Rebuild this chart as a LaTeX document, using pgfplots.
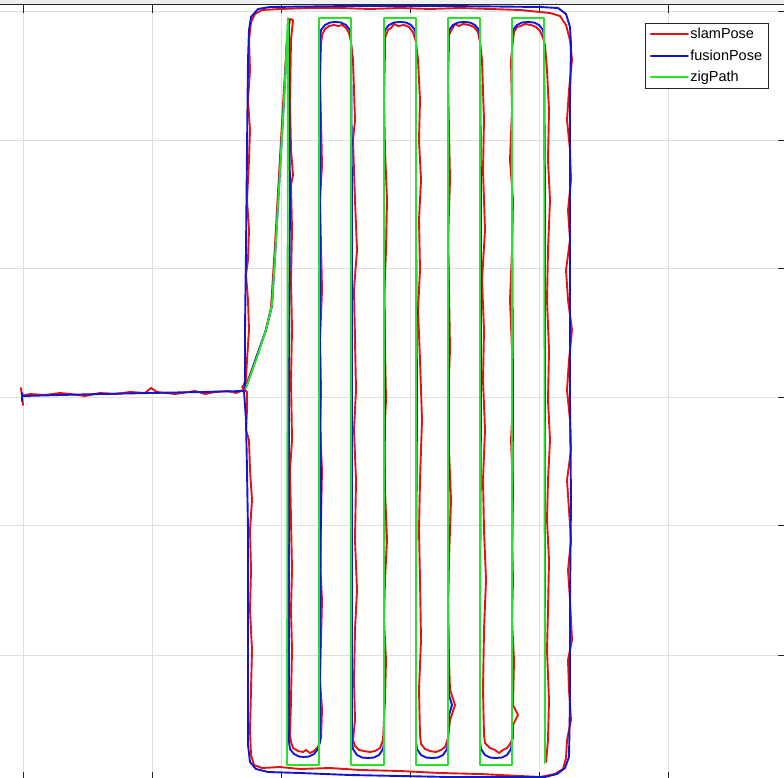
\documentclass[border=0pt]{standalone}
\usepackage{pgfplots}
\pgfplotsset{compat=1.18}
\usepackage{fontspec}
\setmainfont{Liberation Sans}
\definecolor{mred}{RGB}{225,20,20}
\definecolor{mblue}{RGB}{20,20,210}
\definecolor{mgreen}{RGB}{40,225,40}
\definecolor{figbg}{RGB}{240,240,240}
\definecolor{gridc}{RGB}{223,223,223}
\definecolor{axc}{RGB}{38,38,38}
\begin{document}
\begin{tikzpicture}
\begin{axis}[
 x=1pt, y=1pt, y dir=reverse,
 xmin=-15, xmax=786, ymin=5, ymax=779.5,
 axis line style={axc, line width=1pt},
 xtick={23,152,281,410,539,668}, ytick={11,140,268,397,525,655},
 xticklabels={}, yticklabels={},
 tick align=inside, major tick length=8pt,
 tick style={axc, line width=0.9pt},
 xtick pos=both, ytick pos=both,
 grid=major, major grid style={gridc, line width=0.9pt},
 clip=false,
 legend cell align=left,
 legend image code/.code={\draw[#1] (0pt,0pt) -- (37pt,0pt);},
 legend style={at={(0.9788,0.9768)}, anchor=north east, draw=axc, line width=0.8pt, fill=white,
   font=\fontsize{14.5}{17}\selectfont, inner xsep=5pt, inner ysep=3.5pt, row sep=6.5pt,
   nodes={inner sep=1.5pt}},
 every axis plot/.append style={line width=1.9pt, line join=round, line cap=round},
]
% slamPose
\addplot[mred] coordinates {
(21,388) (23,405) (22,396) (30,394) (45,395) (60,393) (70,394) (85,396) (100,393) (115,394) (130,392) (145,393) (151,388) (157,392) (175,394) (195,391) (205,394) (215,392) (228,391) (236,393) (243,390) (246,383) (242,387) (247,392)
(247,410) (246,430) (249,440) (250,470) (252,500) (250,530) (251,570) (250,610) (252,650) (251,690) (250,730) (251,755) (254,765) (262,768) (280,767) (300,769) (330,768) (360,770) (400,771) (440,773) (480,774) (520,776) (540,777) (555,774) (563,769) (566,758) (567,740) (571,720) (569,690) (568,660) (572,640) (570,600) (568,570) (571,540) (569,510) (567,480) (571,450) (570,420) (567,390) (569,360) (572,330) (568,300) (566,270) (570,240) (568,210) (571,180) (570,150) (567,120) (569,90) (572,60) (570,40) (566,25) (560,16) (550,13) (540,12) (520,10) (490,9) (460,8) (430,9) (400,8) (370,9) (340,8) (310,8) (280,9) (262,10) (255,14) (251,22) (249,40) (250,70) (248,100) (250,130) (249,160) (247,200) (249,230) (248,260) (246,275) (248,300) (249,330) (247,360) (246,378) (244,384)
(248,380) (257,356) (265,333) (271,308) (275,245) (279,175) (283,105) (287,40) (290,19) (293,20)
(291,40) (290,100) (291,150) (293,175) (291,185) (292,230) (291,280) (292,330) (291,380) (292,440) (290,470) (291,520) (292,570) (291,610) (292,650) (291,700) (290,735)
(291,742) (293,748) (298,751) (303,752) (306,750) (310,753) (314,751) (318,747) (321,738)
(322,710) (320,680) (321,640) (322,600) (320,560) (321,520) (322,470) (320,430) (321,390) (320,340) (322,290) (321,245) (320,200) (322,165) (321,120) (320,80) (321,45)
(322,35) (325,29) (329,26) (334,25) (338,26) (342,25) (346,28) (349,33) (351,42)
(353,60) (355,120) (353,140) (355,200) (357,250) (354,290) (355,340) (356,390) (354,430) (356,480) (355,540) (357,590) (355,630) (354,680) (355,720) (353,740)
(355,746) (359,750) (364,751) (370,752) (375,751) (380,748) (383,740)
(385,700) (386,660) (384,620) (385,580) (387,540) (385,490) (384,440) (386,400) (385,350) (384,300) (386,250) (387,200) (385,150) (384,100) (385,50)
(385,38) (388,30) (391,28) (394,24) (398,26) (404,25) (409,27) (413,32) (416,42)
(418,60) (420,100) (419,140) (421,180) (419,220) (420,270) (418,310) (420,360) (422,420) (420,480) (419,530) (420,580) (421,640) (419,690) (420,735)
(421,744) (425,749) (430,751) (436,752) (441,750) (445,747) (448,738)
(450,720) (455,705) (450,690) (449,660) (448,610) (449,560) (451,500) (449,450) (448,400) (450,350) (449,290) (448,240) (450,180) (449,130) (448,80) (449,45)
(449,35) (452,29) (455,24) (459,26) (463,24) (469,25) (474,27) (478,32) (480,42)
(482,60) (484,120) (483,170) (485,230) (482,280) (484,330) (483,380) (485,430) (483,480) (484,530) (486,580) (484,630) (483,690) (484,735)
(485,743) (490,748) (495,750) (499,753) (503,750) (507,748) (510,744) (513,738)
(513,725) (518,715) (513,705) (514,660) (512,620) (513,580) (512,540) (513,490) (511,440) (513,400) (512,350) (510,300) (512,250) (513,200) (510,160) (512,110) (511,60) (513,40)
(514,32) (517,27) (521,26) (525,24) (531,25) (536,27) (540,31) (543,38) (545,45)
(547,70) (549,110) (548,160) (550,200) (548,250) (547,300) (549,350) (548,400) (550,440) (548,480) (547,520) (549,560) (548,610) (547,650) (549,700) (548,740) (546,762)
};
\addlegendentry{slamPose}
% fusionPose
\addplot[mblue] coordinates {
(22,401) (22,393) (23,396) (60,395) (100,394) (150,393) (200,392) (244,391)
(246,420) (247,470) (248,530) (248,600) (248,680) (248,745) (250,762) (256,769) (268,772) (300,773) (350,775) (400,776) (450,777) (500,777) (545,777) (557,774) (565,768) (569,757) (570,700) (570,600) (571,500) (570,400) (570,300) (570,200) (570,100) (571,45) (570,27) (566,14) (558,8) (540,7) (450,6) (350,6) (270,7) (258,9) (251,17) (249,30) (248,60) (247,150) (246,250) (245,330) (245,388)
(247,385) (256,358) (266,330) (272,306) (276,240) (280,170) (284,100) (287,40) (289,20)
(289,60) (290,200) (289,350) (289,500) (289,650) (289,742)
(290,749) (294,754) (299,756.5) (304,757) (309,756.5) (314,754) (318,749) (320,742)
(320,650) (321,500) (320,350) (320,200) (320,37)
(321,30) (325,25) (330,22.5) (335.5,22) (341,22.5) (346,25) (350,30) (351,37)
(352,200) (352,400) (352,600) (352,742)
(353,749) (357,755) (362,757.5) (368,758) (374,757.5) (379,755) (383,749) (384,742)
(384,600) (385,400) (384,200) (384,37)
(385,30) (389,25) (394,22.5) (400,22) (406,22.5) (411,25) (415,30) (416,37)
(416,200) (417,400) (416,600) (416,742)
(417,749) (421,755) (426,757.5) (432,758) (438,757.5) (443,755) (447,749) (448,742)
(449,715) (452,705) (449,695) (448,600) (449,400) (448,200) (448,37)
(449,30) (453,25) (458,22.5) (464,22) (470,22.5) (475,25) (479,30) (480,37)
(481,200) (481,400) (480,600) (480,742)
(481,749) (485,755) (490,757.5) (496,758) (502,757.5) (507,755) (511,749) (512,742)
(512,600) (513,400) (512,200) (512,37)
(513,30) (517,25) (522,22.5) (528,22) (534,22.5) (539,25) (543,30) (544,37)
(545,200) (545,400) (545,600) (545,760)
};
\addlegendentry{fusionPose}
% zigPath
\addplot[mgreen] coordinates {
(246,388) (256,360) (266,330) (272,305) (276,240) (280,170) (284,100) (288,18)
(287,765) (319,765) (319,18) (351,18) (351,765) (384,765) (384,18) (416,18) (416,765) (448,765) (448,18) (480,18) (480,765) (512,765) (512,18) (544,18) (545,763)
};
\addlegendentry{zigPath}
\coordinate (TL) at (axis cs:0,0);
\coordinate (BR) at (axis cs:784,778);
\coordinate (SR) at (axis cs:784,4.4);
\end{axis}
\fill[figbg] (TL) rectangle (SR);
\pgfresetboundingbox
\useasboundingbox (TL) rectangle (BR);
\end{tikzpicture}
\end{document}
